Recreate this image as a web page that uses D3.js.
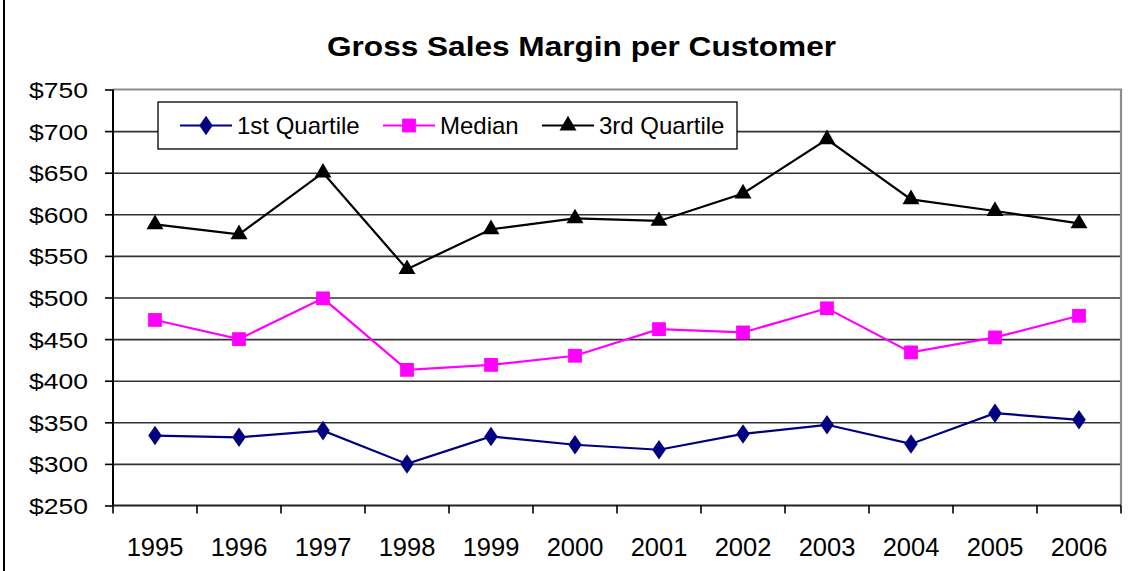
<!DOCTYPE html>
<html>
<head>
<meta charset="utf-8">
<script src="https://cdn.jsdelivr.net/npm/d3@7"></script>
<style>
  body { margin: 0; background: #fff; }
  text { font-family: 'Liberation Sans', Arial, sans-serif; fill: #000; }
</style>
</head>
<body>
<div id="graf"></div>
<script>
// datos del grafico
years = ['1995','1996','1997','1998','1999','2000','2001','2002','2003','2004','2005','2006']
q1     = [334, 332, 340, 300, 333, 323, 317, 336, 347, 324, 361, 353]
median = [473, 450, 499, 413, 419, 430, 462, 458, 487, 434, 452, 478]
q3     = [588, 576, 650, 534, 582, 595, 592, 625, 690, 618, 604, 589]
yTicks = [250, 300, 350, 400, 450, 500, 550, 600, 650, 700, 750]
names  = ['1st Quartile', 'Median', '3rd Quartile']

ancho_total = 1140
alto_total = 571
plot = {left: 113, right: 1121, top: 89.5, bottom: 505.5}

svg = d3.select('#graf').append('svg')
        .attr('width', ancho_total)
        .attr('height', alto_total)

// borde exterior izquierdo
svg.append('line')
   .attr('x1', 4).attr('x2', 4).attr('y1', 0).attr('y2', alto_total)
   .attr('stroke', '#000').attr('stroke-width', 2)

x = d3.scaleBand().domain(years).range([plot.left, plot.right])
y = d3.scaleLinear().domain([250, 750]).range([plot.bottom, plot.top])

// titulo
svg.append('text')
   .attr('x', 327).attr('y', 56)
   .attr('font-size', '28px')
   .attr('font-weight', 'bold')
   .attr('textLength', 509)
   .attr('lengthAdjust', 'spacingAndGlyphs')
   .text('Gross Sales Margin per Customer')

// lineas de cuadricula
ejeYG = d3.axisLeft(y).tickValues(yTicks.slice(1, -1)).tickFormat('').tickSize(-(plot.right - plot.left))
gg = svg.append('g').attr('transform', `translate(${plot.left},0)`).call(ejeYG)
gg.select('.domain').remove()
gg.selectAll('line').attr('stroke', '#333').attr('stroke-width', 1.6)

// bordes gris arriba y derecha
svg.append('path')
   .attr('d', `M${plot.left},${plot.top}H${plot.right}V${plot.bottom}`)
   .attr('fill', 'none').attr('stroke', '#8c8c8c').attr('stroke-width', 2.2)

// eje Y
ejeY = d3.axisLeft(y).tickValues(yTicks).tickFormat(d => '$' + d).tickSize(8).tickPadding(17)
gy = svg.append('g').attr('transform', `translate(${plot.left},0)`).call(ejeY)
gy.select('.domain').attr('stroke', '#000').attr('stroke-width', 2).attr('d', `M0,${plot.top}V${plot.bottom}`)
gy.selectAll('line').attr('stroke', '#000').attr('stroke-width', 1.6)
gy.selectAll('text')
  .attr('font-size', '22px')
  .attr('font-family', "'Liberation Sans', Arial, sans-serif")
  .attr('dy', '0.36em')
  .attr('textLength', 59)
  .attr('lengthAdjust', 'spacingAndGlyphs')

// eje X con marcas en los limites de cada categoria
bounds = years.map(d => x(d)).concat([plot.right])
gx = svg.append('g').attr('transform', `translate(0,${plot.bottom})`)
gx.append('path').attr('d', `M${plot.left},0H${plot.right}`).attr('stroke', '#222').attr('stroke-width', 2.2)
gx.selectAll('line.tk').data(bounds).enter().append('line')
  .attr('x1', d => d).attr('x2', d => d).attr('y1', 0).attr('y2', 8)
  .attr('stroke', '#000').attr('stroke-width', 1.6)
gx.selectAll('text').data(years).enter().append('text')
  .attr('x', d => x(d) + x.bandwidth() / 2)
  .attr('y', 50)
  .attr('text-anchor', 'middle')
  .attr('font-size', '25.5px')
  .text(d => d)

// series
series = [
  {name: names[0], values: q1, color: '#000080', marker: d3.symbolDiamond, size: 110},
  {name: names[1], values: median, color: '#FF00FF', marker: d3.symbolSquare, size: 190},
  {name: names[2], values: q3, color: '#000000', marker: d3.symbolTriangle, size: 125}
]

line = d3.line().x((d, i) => x(years[i]) + x.bandwidth() / 2).y(d => y(d))

series.forEach(s => {
  svg.append('path')
     .attr('d', line(s.values))
     .attr('fill', 'none')
     .attr('stroke', s.color)
     .attr('stroke-width', 2.2)
  svg.selectAll(null).data(s.values).enter().append('path')
     .attr('d', d3.symbol().type(s.marker).size(s.size))
     .attr('transform', (d, i) => `translate(${x(years[i]) + x.bandwidth() / 2},${y(d)})` +
            (s.marker === d3.symbolDiamond ? ' scale(1.2,1)' : ''))
     .attr('fill', s.color)
})

// leyenda
leg = svg.append('g')
leg.append('rect')
   .attr('x', 158).attr('y', 102).attr('width', 579).attr('height', 47)
   .attr('fill', '#fff').attr('stroke', '#000').attr('stroke-width', 1.3)
legX = [180, 383, 542]
series.forEach((s, i) => {
  lx = legX[i]
  leg.append('line')
     .attr('x1', lx).attr('x2', lx + 52).attr('y1', 125.5).attr('y2', 125.5)
     .attr('stroke', s.color).attr('stroke-width', 2.2)
  leg.append('path')
     .attr('d', d3.symbol().type(s.marker).size(s.size))
     .attr('transform', `translate(${lx + 26},125.5)` + (s.marker === d3.symbolDiamond ? ' scale(1.2,1)' : ''))
     .attr('fill', s.color)
  leg.append('text')
     .attr('x', lx + 57).attr('y', 134)
     .attr('font-size', '24px')
     .text(s.name)
})
</script>
</body>
</html>
